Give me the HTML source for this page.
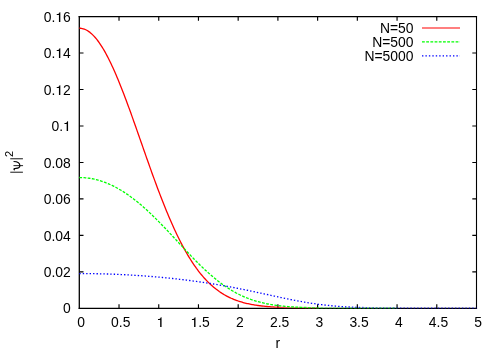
<!DOCTYPE html>
<html><head><meta charset="utf-8"><title>plot</title>
<style>html,body{margin:0;padding:0;background:#fff;}svg{display:block;will-change:transform;}text{font-family:"Liberation Sans",sans-serif;fill:#000;}</style></head><body>
<svg width="500" height="350" viewBox="0 0 500 350">
<rect width="500" height="350" fill="#fff"/>
<path d="M119.02,308.35 v-4.2 M119.02,16.55 v4.2 M158.74,308.35 v-4.2 M158.74,16.55 v4.2 M198.46,308.35 v-4.2 M198.46,16.55 v4.2 M238.18,308.35 v-4.2 M238.18,16.55 v4.2 M277.90,308.35 v-4.2 M277.90,16.55 v4.2 M317.62,308.35 v-4.2 M317.62,16.55 v4.2 M357.34,308.35 v-4.2 M357.34,16.55 v4.2 M397.06,308.35 v-4.2 M397.06,16.55 v4.2 M436.78,308.35 v-4.2 M436.78,16.55 v4.2 M79.3,271.88 h4.2 M476.5,271.88 h-4.2 M79.3,235.40 h4.2 M476.5,235.40 h-4.2 M79.3,198.93 h4.2 M476.5,198.93 h-4.2 M79.3,162.45 h4.2 M476.5,162.45 h-4.2 M79.3,125.98 h4.2 M476.5,125.98 h-4.2 M79.3,89.50 h4.2 M476.5,89.50 h-4.2 M79.3,53.03 h4.2 M476.5,53.03 h-4.2" fill="none" stroke="#000" stroke-width="1.15"/>
<path d="M79.3,15.950000000000001 V309.0" stroke="#000" stroke-width="1.3" fill="none"/>
<path d="M78.64999999999999,308.35 H477.05" stroke="#000" stroke-width="1.3" fill="none"/>
<path d="M78.64999999999999,16.55 H477.05" stroke="#000" stroke-width="1.15" fill="none"/>
<path d="M476.5,15.950000000000001 V309.0" stroke="#000" stroke-width="1.1" fill="none"/>
<defs><linearGradient id="gr" gradientUnits="userSpaceOnUse" x1="0" y1="0" x2="500" y2="0"><stop offset="0" stop-color="#ff0000"/><stop offset="0.5400" stop-color="#ff0000"/><stop offset="0.5840" stop-color="#ff0000" stop-opacity="0.35"/><stop offset="1" stop-color="#ff0000" stop-opacity="0.35"/></linearGradient><linearGradient id="gg" gradientUnits="userSpaceOnUse" x1="0" y1="0" x2="500" y2="0"><stop offset="0" stop-color="#00ff00"/><stop offset="0.6000" stop-color="#00ff00"/><stop offset="0.6500" stop-color="#00ff00" stop-opacity="0.4"/><stop offset="1" stop-color="#00ff00" stop-opacity="0.4"/></linearGradient><linearGradient id="gb" gradientUnits="userSpaceOnUse" x1="0" y1="0" x2="500" y2="0"><stop offset="0" stop-color="#0000ff"/><stop offset="0.6900" stop-color="#0000ff"/><stop offset="0.7400" stop-color="#0000ff" stop-opacity="0.55"/><stop offset="1" stop-color="#0000ff" stop-opacity="0.55"/></linearGradient></defs>
<path d="M79.30,28.20 L80.29,28.23 L81.29,28.34 L82.28,28.53 L83.27,28.78 L84.27,29.12 L85.26,29.52 L86.25,30.00 L87.24,30.55 L88.24,31.17 L89.23,31.86 L90.22,32.63 L91.22,33.47 L92.21,34.38 L93.20,35.35 L94.19,36.40 L95.19,37.51 L96.18,38.69 L97.17,39.93 L98.17,41.25 L99.16,42.62 L100.15,44.07 L101.15,45.57 L102.14,47.13 L103.13,48.76 L104.12,50.44 L105.12,52.18 L106.11,53.99 L107.10,55.84 L108.10,57.75 L109.09,59.71 L110.08,61.73 L111.08,63.79 L112.07,65.91 L113.06,68.07 L114.05,70.28 L115.05,72.53 L116.04,74.82 L117.03,77.16 L118.03,79.54 L119.02,81.95 L120.01,84.40 L121.01,86.89 L122.00,89.41 L122.99,91.96 L123.98,94.55 L124.98,97.16 L125.97,99.80 L126.96,102.46 L127.96,105.15 L128.95,107.85 L129.94,110.58 L130.94,113.33 L131.93,116.10 L132.92,118.88 L133.91,121.67 L134.91,124.47 L135.90,127.29 L136.89,130.11 L137.89,132.94 L138.88,135.78 L139.87,138.62 L140.87,141.46 L141.86,144.30 L142.85,147.14 L143.84,149.98 L144.84,152.81 L145.83,155.64 L146.82,158.46 L147.82,161.28 L148.81,164.08 L149.80,166.87 L150.80,169.65 L151.79,172.41 L152.78,175.17 L153.77,177.90 L154.77,180.62 L155.76,183.31 L156.75,185.99 L157.75,188.65 L158.74,191.28 L159.73,193.89 L160.73,196.48 L161.72,199.04 L162.71,201.58 L163.70,204.08 L164.70,206.57 L165.69,209.02 L166.68,211.44 L167.68,213.83 L168.67,216.20 L169.66,218.53 L170.66,220.83 L171.65,223.09 L172.64,225.33 L173.63,227.53 L174.63,229.69 L175.62,231.82 L176.61,233.92 L177.61,235.98 L178.60,238.01 L179.59,240.00 L180.59,241.96 L181.58,243.88 L182.57,245.76 L183.56,247.61 L184.56,249.42 L185.55,251.20 L186.54,252.94 L187.54,254.64 L188.53,256.30 L189.52,257.93 L190.52,259.53 L191.51,261.09 L192.50,262.61 L193.50,264.10 L194.49,265.55 L195.48,266.97 L196.47,268.36 L197.47,269.70 L198.46,271.02 L199.45,272.30 L200.45,273.55 L201.44,274.76 L202.43,275.95 L203.43,277.10 L204.42,278.22 L205.41,279.30 L206.40,280.36 L207.40,281.39 L208.39,282.39 L209.38,283.35 L210.38,284.29 L211.37,285.20 L212.36,286.08 L213.36,286.94 L214.35,287.77 L215.34,288.57 L216.33,289.35 L217.33,290.10 L218.32,290.82 L219.31,291.53 L220.31,292.20 L221.30,292.86 L222.29,293.49 L223.28,294.10 L224.28,294.69 L225.27,295.26 L226.26,295.81 L227.26,296.34 L228.25,296.85 L229.24,297.34 L230.24,297.81 L231.23,298.27 L232.22,298.70 L233.21,299.12 L234.21,299.53 L235.20,299.92 L236.19,300.29 L237.19,300.65 L238.18,300.99 L239.17,301.32 L240.17,301.64 L241.16,301.94 L242.15,302.23 L243.14,302.51 L244.14,302.78 L245.13,303.03 L246.12,303.28 L247.12,303.51 L248.11,303.74 L249.10,303.95 L250.10,304.16 L251.09,304.35 L252.08,304.54 L253.07,304.71 L254.07,304.88 L255.06,305.05 L256.05,305.20 L257.05,305.35 L258.04,305.49 L259.03,305.62 L260.03,305.75 L261.02,305.87 L262.01,305.99 L263.00,306.10 L264.00,306.20 L264.99,306.30 L265.98,306.39 L266.98,306.48 L267.97,306.57 L268.96,306.65 L269.96,306.72 L270.95,306.80 L271.94,306.87 L272.94,306.93 L273.93,306.99 L274.92,307.05 L275.91,307.11 L276.91,307.16 L277.90,307.21 L278.89,307.26 L279.89,307.30 L280.88,307.34 L281.87,307.38 L282.87,307.42 L283.86,307.45 L284.85,307.49 L285.84,307.52 L286.84,307.55 L287.83,307.58 L288.82,307.60 L289.82,307.63 L290.81,307.65 L291.80,307.67 L292.80,307.69 L293.79,307.71 L294.78,307.73 L295.77,307.75 L296.77,307.77 L297.76,307.78 L298.75,307.80 L299.75,307.81 L300.74,307.82 L301.73,307.83 L302.72,307.84 L303.72,307.85 L304.71,307.86 L305.70,307.87 L306.70,307.88 L307.69,307.89 L308.68,307.90 L309.68,307.90 L310.67,307.91 L311.66,307.92 L312.65,307.92 L313.65,307.93 L314.64,307.93 L315.63,307.94 L316.63,307.94 L317.62,307.95" fill="none" stroke="url(#gr)" stroke-width="1.3" stroke-linejoin="round"/>
<path d="M79.30,177.52 L80.29,177.53 L81.29,177.55 L82.28,177.59 L83.27,177.64 L84.27,177.70 L85.26,177.78 L86.25,177.88 L87.24,177.99 L88.24,178.11 L89.23,178.25 L90.22,178.41 L91.22,178.57 L92.21,178.76 L93.20,178.95 L94.19,179.17 L95.19,179.39 L96.18,179.63 L97.17,179.89 L98.17,180.16 L99.16,180.44 L100.15,180.74 L101.15,181.05 L102.14,181.38 L103.13,181.72 L104.12,182.08 L105.12,182.45 L106.11,182.84 L107.10,183.23 L108.10,183.65 L109.09,184.07 L110.08,184.52 L111.08,184.97 L112.07,185.44 L113.06,185.92 L114.05,186.42 L115.05,186.93 L116.04,187.46 L117.03,188.00 L118.03,188.55 L119.02,189.12 L120.01,189.70 L121.01,190.29 L122.00,190.90 L122.99,191.52 L123.98,192.15 L124.98,192.80 L125.97,193.46 L126.96,194.13 L127.96,194.81 L128.95,195.51 L129.94,196.22 L130.94,196.94 L131.93,197.68 L132.92,198.43 L133.91,199.19 L134.91,199.96 L135.90,200.74 L136.89,201.54 L137.89,202.35 L138.88,203.16 L139.87,203.99 L140.87,204.83 L141.86,205.69 L142.85,206.55 L143.84,207.42 L144.84,208.30 L145.83,209.20 L146.82,210.10 L147.82,211.01 L148.81,211.94 L149.80,212.87 L150.80,213.81 L151.79,214.76 L152.78,215.72 L153.77,216.68 L154.77,217.66 L155.76,218.64 L156.75,219.63 L157.75,220.62 L158.74,221.63 L159.73,222.64 L160.73,223.65 L161.72,224.68 L162.71,225.70 L163.70,226.74 L164.70,227.78 L165.69,228.82 L166.68,229.87 L167.68,230.92 L168.67,231.97 L169.66,233.03 L170.66,234.09 L171.65,235.16 L172.64,236.22 L173.63,237.29 L174.63,238.36 L175.62,239.43 L176.61,240.50 L177.61,241.57 L178.60,242.65 L179.59,243.72 L180.59,244.79 L181.58,245.86 L182.57,246.92 L183.56,247.99 L184.56,249.05 L185.55,250.11 L186.54,251.17 L187.54,252.23 L188.53,253.28 L189.52,254.32 L190.52,255.36 L191.51,256.40 L192.50,257.43 L193.50,258.45 L194.49,259.47 L195.48,260.48 L196.47,261.49 L197.47,262.49 L198.46,263.48 L199.45,264.46 L200.45,265.43 L201.44,266.40 L202.43,267.35 L203.43,268.30 L204.42,269.24 L205.41,270.17 L206.40,271.08 L207.40,271.99 L208.39,272.89 L209.38,273.77 L210.38,274.65 L211.37,275.51 L212.36,276.36 L213.36,277.20 L214.35,278.03 L215.34,278.84 L216.33,279.65 L217.33,280.44 L218.32,281.22 L219.31,281.98 L220.31,282.73 L221.30,283.47 L222.29,284.20 L223.28,284.91 L224.28,285.61 L225.27,286.29 L226.26,286.97 L227.26,287.62 L228.25,288.27 L229.24,288.90 L230.24,289.52 L231.23,290.13 L232.22,290.72 L233.21,291.30 L234.21,291.86 L235.20,292.41 L236.19,292.95 L237.19,293.47 L238.18,293.99 L239.17,294.48 L240.17,294.97 L241.16,295.44 L242.15,295.90 L243.14,296.35 L244.14,296.79 L245.13,297.21 L246.12,297.62 L247.12,298.02 L248.11,298.41 L249.10,298.79 L250.10,299.15 L251.09,299.50 L252.08,299.85 L253.07,300.18 L254.07,300.50 L255.06,300.81 L256.05,301.11 L257.05,301.40 L258.04,301.68 L259.03,301.95 L260.03,302.21 L261.02,302.46 L262.01,302.71 L263.00,302.94 L264.00,303.17 L264.99,303.39 L265.98,303.60 L266.98,303.80 L267.97,303.99 L268.96,304.18 L269.96,304.36 L270.95,304.53 L271.94,304.69 L272.94,304.85 L273.93,305.00 L274.92,305.15 L275.91,305.29 L276.91,305.42 L277.90,305.55 L278.89,305.67 L279.89,305.79 L280.88,305.90 L281.87,306.01 L282.87,306.11 L283.86,306.21 L284.85,306.30 L285.84,306.39 L286.84,306.48 L287.83,306.56 L288.82,306.64 L289.82,306.71 L290.81,306.78 L291.80,306.85 L292.80,306.91 L293.79,306.97 L294.78,307.03 L295.77,307.08 L296.77,307.13 L297.76,307.18 L298.75,307.23 L299.75,307.27 L300.74,307.32 L301.73,307.36 L302.72,307.39 L303.72,307.43 L304.71,307.46 L305.70,307.49 L306.70,307.52 L307.69,307.55 L308.68,307.58 L309.68,307.61 L310.67,307.63 L311.66,307.65 L312.65,307.67 L313.65,307.69 L314.64,307.71 L315.63,307.73 L316.63,307.75 L317.62,307.76 L318.61,307.78 L319.61,307.79 L320.60,307.81 L321.59,307.82 L322.58,307.83 L323.58,307.84 L324.57,307.85 L325.56,307.86 L326.56,307.87 L327.55,307.88 L328.54,307.89 L329.54,307.90 L330.53,307.90 L331.52,307.91 L332.51,307.92 L333.51,307.92 L334.50,307.93 L335.49,307.93 L336.49,307.94 L337.48,307.94 L338.47,307.95 L339.47,307.95 L340.46,307.95 L341.45,307.96 L342.44,307.96 L343.44,307.96 L344.43,307.97 L345.42,307.97 L346.42,307.97 L347.41,307.97 L348.40,307.97 L349.40,307.98 L350.39,307.98 L351.38,307.98 L352.38,307.98 L353.37,307.98 L354.36,307.98 L355.35,307.99 L356.35,307.99 L357.34,307.99 L358.33,307.99 L359.33,307.99 L360.32,307.99 L361.31,307.99 L362.31,307.99 L363.30,307.99 L364.29,307.99 L365.28,307.99 L366.28,307.99 L367.27,307.99 L368.26,307.99 L369.26,308.00 L370.25,308.00 L371.24,308.00 L372.24,308.00 L373.23,308.00 L374.22,308.00 L375.21,308.00 L376.21,308.00 L377.20,308.00 L378.19,308.00 L379.19,308.00 L380.18,308.00 L381.17,308.00 L382.17,308.00 L383.16,308.00 L384.15,308.00 L385.14,308.00 L386.14,308.00 L387.13,308.00 L388.12,308.00 L389.12,308.00 L390.11,308.00 L391.10,308.00 L392.10,308.00 L393.09,308.00 L394.08,308.00 L395.07,308.00 L396.07,308.00 L397.06,308.00" fill="none" stroke="url(#gg)" stroke-width="1.3" stroke-dasharray="2.8,1.4" stroke-linejoin="round"/>
<path d="M79.30,273.56 L80.29,273.56 L81.29,273.56 L82.28,273.56 L83.27,273.57 L84.27,273.57 L85.26,273.58 L86.25,273.58 L87.24,273.59 L88.24,273.60 L89.23,273.61 L90.22,273.62 L91.22,273.64 L92.21,273.65 L93.20,273.66 L94.19,273.68 L95.19,273.70 L96.18,273.72 L97.17,273.74 L98.17,273.76 L99.16,273.78 L100.15,273.80 L101.15,273.82 L102.14,273.85 L103.13,273.87 L104.12,273.90 L105.12,273.93 L106.11,273.96 L107.10,273.99 L108.10,274.02 L109.09,274.05 L110.08,274.09 L111.08,274.12 L112.07,274.16 L113.06,274.19 L114.05,274.23 L115.05,274.27 L116.04,274.31 L117.03,274.35 L118.03,274.40 L119.02,274.44 L120.01,274.48 L121.01,274.53 L122.00,274.58 L122.99,274.63 L123.98,274.68 L124.98,274.73 L125.97,274.78 L126.96,274.83 L127.96,274.88 L128.95,274.94 L129.94,274.99 L130.94,275.05 L131.93,275.11 L132.92,275.17 L133.91,275.23 L134.91,275.29 L135.90,275.35 L136.89,275.42 L137.89,275.48 L138.88,275.55 L139.87,275.62 L140.87,275.69 L141.86,275.76 L142.85,275.83 L143.84,275.90 L144.84,275.97 L145.83,276.05 L146.82,276.12 L147.82,276.20 L148.81,276.28 L149.80,276.36 L150.80,276.44 L151.79,276.52 L152.78,276.60 L153.77,276.68 L154.77,276.77 L155.76,276.86 L156.75,276.94 L157.75,277.03 L158.74,277.12 L159.73,277.21 L160.73,277.30 L161.72,277.40 L162.71,277.49 L163.70,277.59 L164.70,277.68 L165.69,277.78 L166.68,277.88 L167.68,277.98 L168.67,278.08 L169.66,278.19 L170.66,278.29 L171.65,278.40 L172.64,278.50 L173.63,278.61 L174.63,278.72 L175.62,278.83 L176.61,278.94 L177.61,279.06 L178.60,279.17 L179.59,279.28 L180.59,279.40 L181.58,279.52 L182.57,279.64 L183.56,279.76 L184.56,279.88 L185.55,280.00 L186.54,280.13 L187.54,280.25 L188.53,280.38 L189.52,280.51 L190.52,280.64 L191.51,280.77 L192.50,280.90 L193.50,281.04 L194.49,281.17 L195.48,281.31 L196.47,281.44 L197.47,281.58 L198.46,281.72 L199.45,281.87 L200.45,282.01 L201.44,282.15 L202.43,282.30 L203.43,282.44 L204.42,282.59 L205.41,282.74 L206.40,282.89 L207.40,283.05 L208.39,283.20 L209.38,283.36 L210.38,283.51 L211.37,283.67 L212.36,283.83 L213.36,283.99 L214.35,284.15 L215.34,284.32 L216.33,284.48 L217.33,284.65 L218.32,284.81 L219.31,284.98 L220.31,285.15 L221.30,285.33 L222.29,285.50 L223.28,285.67 L224.28,285.85 L225.27,286.03 L226.26,286.20 L227.26,286.38 L228.25,286.57 L229.24,286.75 L230.24,286.93 L231.23,287.12 L232.22,287.30 L233.21,287.49 L234.21,287.68 L235.20,287.87 L236.19,288.06 L237.19,288.26 L238.18,288.45 L239.17,288.65 L240.17,288.84 L241.16,289.04 L242.15,289.24 L243.14,289.44 L244.14,289.64 L245.13,289.84 L246.12,290.04 L247.12,290.25 L248.11,290.45 L249.10,290.66 L250.10,290.87 L251.09,291.08 L252.08,291.28 L253.07,291.49 L254.07,291.70 L255.06,291.92 L256.05,292.13 L257.05,292.34 L258.04,292.55 L259.03,292.77 L260.03,292.98 L261.02,293.20 L262.01,293.41 L263.00,293.63 L264.00,293.84 L264.99,294.06 L265.98,294.28 L266.98,294.49 L267.97,294.71 L268.96,294.93 L269.96,295.14 L270.95,295.36 L271.94,295.58 L272.94,295.79 L273.93,296.01 L274.92,296.22 L275.91,296.44 L276.91,296.65 L277.90,296.87 L278.89,297.08 L279.89,297.29 L280.88,297.51 L281.87,297.72 L282.87,297.93 L283.86,298.14 L284.85,298.34 L285.84,298.55 L286.84,298.76 L287.83,298.96 L288.82,299.16 L289.82,299.36 L290.81,299.56 L291.80,299.76 L292.80,299.96 L293.79,300.15 L294.78,300.35 L295.77,300.54 L296.77,300.73 L297.76,300.91 L298.75,301.10 L299.75,301.28 L300.74,301.46 L301.73,301.64 L302.72,301.82 L303.72,301.99 L304.71,302.16 L305.70,302.33 L306.70,302.49 L307.69,302.66 L308.68,302.82 L309.68,302.98 L310.67,303.13 L311.66,303.28 L312.65,303.43 L313.65,303.58 L314.64,303.73 L315.63,303.87 L316.63,304.00 L317.62,304.14 L318.61,304.27 L319.61,304.40 L320.60,304.53 L321.59,304.65 L322.58,304.77 L323.58,304.89 L324.57,305.01 L325.56,305.12 L326.56,305.23 L327.55,305.33 L328.54,305.44 L329.54,305.54 L330.53,305.64 L331.52,305.73 L332.51,305.82 L333.51,305.91 L334.50,306.00 L335.49,306.08 L336.49,306.16 L337.48,306.24 L338.47,306.32 L339.47,306.39 L340.46,306.46 L341.45,306.53 L342.44,306.60 L343.44,306.66 L344.43,306.72 L345.42,306.78 L346.42,306.84 L347.41,306.90 L348.40,306.95 L349.40,307.00 L350.39,307.05 L351.38,307.09 L352.38,307.14 L353.37,307.18 L354.36,307.22 L355.35,307.26 L356.35,307.30 L357.34,307.34 L358.33,307.37 L359.33,307.41 L360.32,307.44 L361.31,307.47 L362.31,307.50 L363.30,307.52 L364.29,307.55 L365.28,307.58 L366.28,307.60 L367.27,307.62 L368.26,307.64 L369.26,307.66 L370.25,307.68 L371.24,307.70 L372.24,307.72 L373.23,307.74 L374.22,307.75 L375.21,307.77 L376.21,307.78 L377.20,307.79 L378.19,307.81 L379.19,307.82 L380.18,307.83 L381.17,307.84 L382.17,307.85 L383.16,307.86 L384.15,307.87 L385.14,307.88 L386.14,307.88 L387.13,307.89 L388.12,307.90 L389.12,307.91 L390.11,307.91 L391.10,307.92 L392.10,307.92 L393.09,307.93 L394.08,307.93 L395.07,307.94 L396.07,307.94 L397.06,307.95 L398.05,307.95 L399.05,307.95 L400.04,307.96 L401.03,307.96 L402.02,307.96 L403.02,307.97 L404.01,307.97 L405.00,307.97 L406.00,307.97 L406.99,307.97 L407.98,307.98 L408.98,307.98 L409.97,307.98 L410.96,307.98 L411.95,307.98 L412.95,307.98 L413.94,307.99 L414.93,307.99 L415.93,307.99 L416.92,307.99 L417.91,307.99 L418.91,307.99 L419.90,307.99 L420.89,307.99 L421.88,307.99 L422.88,307.99 L423.87,307.99 L424.86,307.99 L425.86,307.99 L426.85,307.99 L427.84,308.00 L428.84,308.00 L429.83,308.00 L430.82,308.00 L431.81,308.00 L432.81,308.00 L433.80,308.00 L434.79,308.00 L435.79,308.00 L436.78,308.00 L437.77,308.00 L438.77,308.00 L439.76,308.00 L440.75,308.00 L441.75,308.00 L442.74,308.00 L443.73,308.00 L444.72,308.00 L445.72,308.00 L446.71,308.00 L447.70,308.00 L448.70,308.00 L449.69,308.00 L450.68,308.00 L451.68,308.00 L452.67,308.00 L453.66,308.00 L454.65,308.00 L455.65,308.00 L456.64,308.00 L457.63,308.00 L458.63,308.00 L459.62,308.00 L460.61,308.00 L461.61,308.00 L462.60,308.00 L463.59,308.00 L464.58,308.00 L465.58,308.00 L466.57,308.00 L467.56,308.00 L468.56,308.00 L469.55,308.00 L470.54,308.00 L471.54,308.00 L472.53,308.00 L473.52,308.00 L474.51,308.00 L475.51,308.00 L476.50,308.00" fill="none" stroke="url(#gb)" stroke-width="1.3" stroke-dasharray="1.4,2.04" stroke-linejoin="round"/>
<text x="77.13" y="327.00" font-size="13.9">0</text>
<text x="111.06" y="327.00" font-size="13.9">0.5</text>
<path transform="translate(156.57,327.00) scale(0.01390,-0.01390)" d="M259 0V505H102V568C220 578 268 606 305 709H359V0Z" fill="#000"/>
<path transform="translate(190.50,327.00) scale(0.01390,-0.01390)" d="M259 0V505H102V568C220 578 268 606 305 709H359V0Z" fill="#000"/><text x="198.23" y="327.00" font-size="13.9">.5</text>
<text x="236.01" y="327.00" font-size="13.9">2</text>
<text x="269.94" y="327.00" font-size="13.9">2.5</text>
<text x="315.45" y="327.00" font-size="13.9">3</text>
<text x="349.38" y="327.00" font-size="13.9">3.5</text>
<text x="394.89" y="327.00" font-size="13.9">4</text>
<text x="428.82" y="327.00" font-size="13.9">4.5</text>
<text x="474.33" y="327.00" font-size="13.9">5</text>
<text x="63.07" y="313.00" font-size="13.9">0</text>
<text x="43.75" y="277.00" font-size="13.9">0.02</text>
<text x="43.75" y="241.00" font-size="13.9">0.04</text>
<text x="43.75" y="204.00" font-size="13.9">0.06</text>
<text x="43.75" y="168.00" font-size="13.9">0.08</text>
<text x="51.48" y="131.00" font-size="13.9">0.</text><path transform="translate(63.07,131.00) scale(0.01390,-0.01390)" d="M259 0V505H102V568C220 578 268 606 305 709H359V0Z" fill="#000"/>
<text x="43.75" y="95.00" font-size="13.9">0.</text><path transform="translate(55.34,95.00) scale(0.01390,-0.01390)" d="M259 0V505H102V568C220 578 268 606 305 709H359V0Z" fill="#000"/><text x="63.07" y="95.00" font-size="13.9">2</text>
<text x="43.75" y="58.00" font-size="13.9">0.</text><path transform="translate(55.34,58.00) scale(0.01390,-0.01390)" d="M259 0V505H102V568C220 578 268 606 305 709H359V0Z" fill="#000"/><text x="63.07" y="58.00" font-size="13.9">4</text>
<text x="43.75" y="22.00" font-size="13.9">0.</text><path transform="translate(55.34,22.00) scale(0.01390,-0.01390)" d="M259 0V505H102V568C220 578 268 606 305 709H359V0Z" fill="#000"/><text x="63.07" y="22.00" font-size="13.9">6</text>
<text x="277.7" y="347.5" font-size="13.9" text-anchor="middle">r</text>
<g transform="translate(20.2,162.5) rotate(-90)">
<g transform="translate(-11.5,0) scale(0.01390,-0.01390)"><rect x="97" y="-195" width="66" height="910" fill="#000"/></g>
<g transform="translate(1.9,0) scale(0.01390,-0.01390)"><rect x="97" y="-195" width="66" height="910" fill="#000"/></g>
<g transform="translate(-7.9,0) scale(0.01390,-0.01390)" fill="none" stroke="#000" stroke-width="62" stroke-linecap="butt"><path d="M343,485 V-205"/><path stroke-width="88" d="M30,385 C40,450 100,475 125,410 C160,300 130,25 343,25 C545,25 640,230 640,478"/></g>
<text x="5.4" y="-6.9" font-size="11.1">2</text>
</g>
<text x="413.5" y="32.70" font-size="13.9" text-anchor="end">N=50</text>
<path d="M422,28.00 H460" fill="none" stroke="#ff0000" stroke-width="1.2"/>
<text x="413.5" y="46.60" font-size="13.9" text-anchor="end">N=500</text>
<path d="M422,41.90 H460" fill="none" stroke="#00ff00" stroke-width="1.2" stroke-dasharray="2.8,1.4"/>
<text x="413.5" y="60.50" font-size="13.9" text-anchor="end">N=5000</text>
<path d="M422,55.80 H460" fill="none" stroke="#0000ff" stroke-width="1.2" stroke-dasharray="1.4,2.04"/>
</svg></body></html>
